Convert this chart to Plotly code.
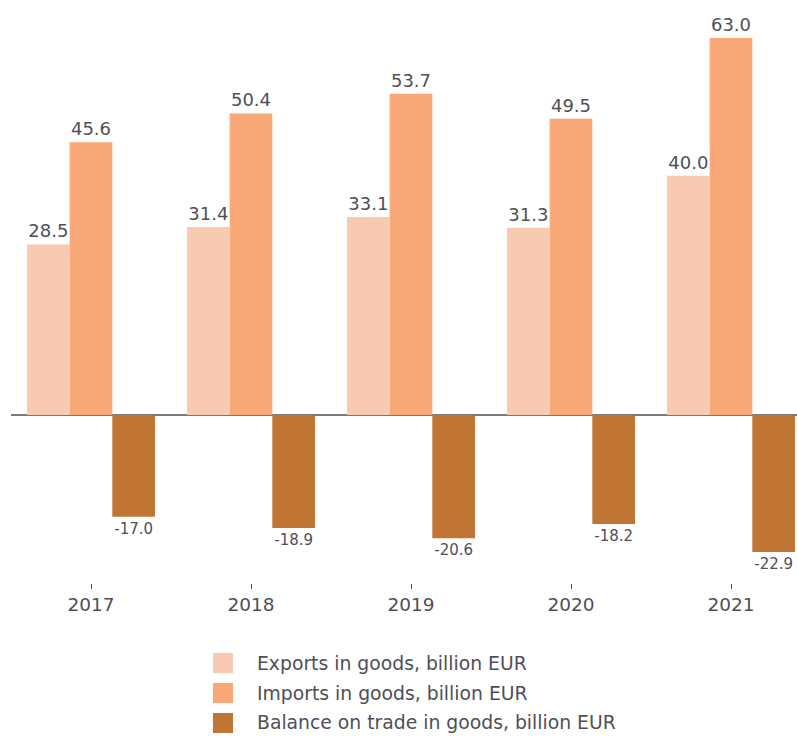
import plotly.graph_objects as go

years = ["2017", "2018", "2019", "2020", "2021"]
exports = [28.5, 31.4, 33.1, 31.3, 40.0]
imports = [45.6, 50.4, 53.7, 49.5, 63.0]
balance = [-17.0, -18.9, -20.6, -18.2, -22.9]

series_names = [
    "Exports in goods, billion EUR",
    "Imports in goods, billion EUR",
    "Balance on trade in goods, billion EUR",
]
colors = ["#F8CAB2", "#F8A977", "#C17535"]
label_sizes = [18, 18, 15]

FONT = "DejaVu Sans, Verdana, sans-serif"
TEXT_COLOR = "#4F4F58"

W, H = 797, 737
M_L, M_R, M_T, M_B = 11, 0, 10, 154
PLOT_W = W - M_L - M_R
PLOT_H = H - M_T - M_B


def paper_x(px):
    return (px - M_L) / PLOT_W


def paper_y(py):
    return (H - M_B - py) / PLOT_H


fig = go.Figure()
for name, vals, color, size in zip(series_names, [exports, imports, balance], colors, label_sizes):
    fig.add_trace(go.Bar(
        x=years,
        y=vals,
        name=name,
        marker=dict(color=color, line=dict(width=0)),
        text=[f"{v:.1f}" for v in vals],
        textposition="outside",
        textfont=dict(size=size, color=TEXT_COLOR, family=FONT),
        constraintext="none",
        cliponaxis=False,
        showlegend=False,
    ))

# Legend block below the chart: square swatches with labels
shapes = []
annotations = []
for i, (name, color) in enumerate(zip(series_names, colors)):
    cy = 663 + 30 * i
    shapes.append(dict(
        type="rect", xref="paper", yref="paper",
        x0=paper_x(213), x1=paper_x(233),
        y0=paper_y(cy - 10), y1=paper_y(cy + 10),
        fillcolor=color, line=dict(width=0),
    ))
    annotations.append(dict(
        xref="paper", yref="paper",
        x=paper_x(255), y=paper_y(cy),
        xanchor="left", yanchor="middle",
        text=name, showarrow=False,
        font=dict(size=18.8, color=TEXT_COLOR, family=FONT),
    ))

fig.update_layout(
    width=W,
    height=H,
    barmode="group",
    bargap=0.2,
    bargroupgap=0,
    plot_bgcolor="white",
    paper_bgcolor="white",
    margin=dict(l=M_L, r=M_R, t=M_T, b=M_B),
    font=dict(family=FONT, color=TEXT_COLOR),
    showlegend=False,
    shapes=shapes,
    annotations=annotations,
    xaxis=dict(
        type="category",
        range=[-0.5, 4.4125],
        showgrid=False,
        showline=False,
        ticks="outside",
        ticklen=5,
        tickcolor=TEXT_COLOR,
        tickfont=dict(size=18.5, color=TEXT_COLOR, family=FONT),
    ),
    yaxis=dict(
        range=[-28.07, 67.68],
        showgrid=False,
        showticklabels=False,
        zeroline=True,
        zerolinecolor="#7A7A7A",
        zerolinewidth=1.5,
    ),
)

fig.write_html("out.html")
